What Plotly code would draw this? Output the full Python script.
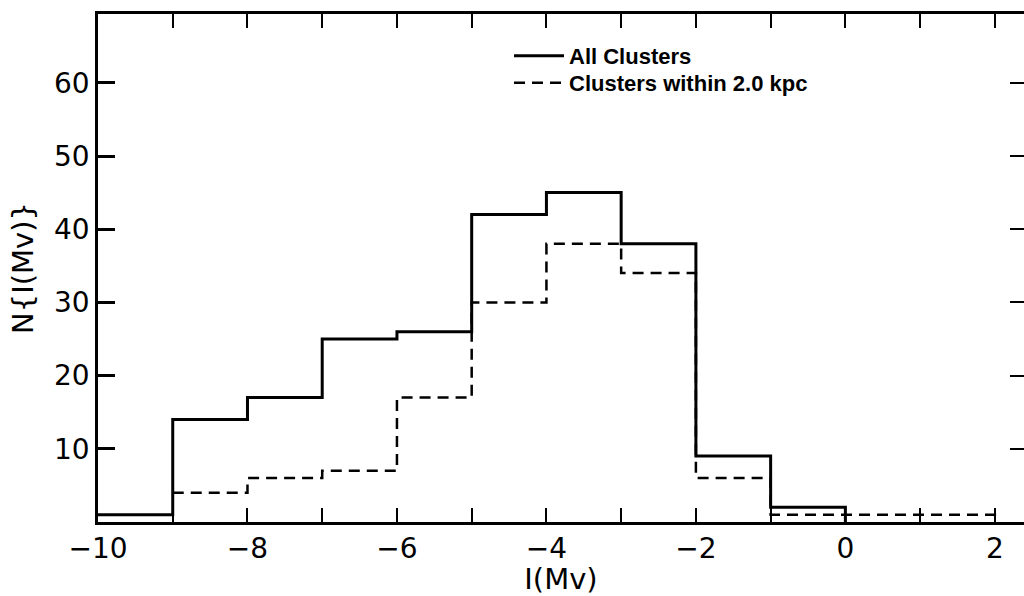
import plotly.graph_objects as go

# ---- data ----
bin_left = [-10, -9, -8, -7, -6, -5, -4, -3, -2, -1, 0, 1]
bin_width = 1
all_clusters = [1, 14, 17, 25, 26, 42, 45, 38, 9, 2, 0, 0]
near_clusters = [0, 4, 6, 7, 17, 30, 38, 34, 6, 1, 1, 1]
series_names = ["All Clusters", "Clusters within 2.0 kpc"]
x_tick_vals = [-10, -8, -6, -4, -2, 0, 2]
y_tick_vals = [10, 20, 30, 40, 50, 60]
x_title = "I(Mv)"
y_title = "N{I(Mv)}"


def step_xy(counts):
    """Step outline of the non-empty bins, closing down to zero at the end."""
    nz = [i for i, c in enumerate(counts) if c != 0]
    i0, i1 = nz[0], nz[-1]
    xs = [bin_left[i] for i in range(i0, i1 + 1)] + [bin_left[i1] + bin_width]
    ys = [counts[i] for i in range(i0, i1 + 1)] + [0]
    return xs, ys


fig = go.Figure()
x1, y1 = step_xy(all_clusters)
fig.add_trace(go.Scatter(
    x=x1, y=y1, mode="lines", line_shape="hv", legend="legend",
    name=series_names[0], line=dict(color="black", width=3),
))
x2, y2 = step_xy(near_clusters)
fig.add_trace(go.Scatter(
    x=x2, y=y2, mode="lines", line_shape="hv", legend="legend2",
    name=series_names[1], line=dict(color="black", width=2.5, dash="11px,7px"),
))
# invisible trace to carry the top / right mirror axes
fig.add_trace(go.Scatter(x=[bin_left[0]], y=[0], xaxis="x2", yaxis="y2",
                         mode="markers", marker=dict(opacity=0),
                         showlegend=False, hoverinfo="skip"))

tick_font = dict(family="DejaVu Sans", size=28, color="black")
title_font = dict(family="DejaVu Sans", size=29, color="black")
legend_font = dict(family="Liberation Sans", size=22, color="black", weight="bold")
xr = [-10, 2.39]
yr = [0, 69.4]
lx = (509 - 98) / 926

fig.update_layout(
    width=1024, height=596,
    margin=dict(l=98, r=0, t=14, b=74),
    paper_bgcolor="white", plot_bgcolor="white",
    showlegend=True,
    legend=dict(x=lx, xanchor="left", y=1 - (56 - 14) / 508, yanchor="middle",
                font=legend_font, bgcolor="rgba(0,0,0,0)", itemwidth=50),
    legend2=dict(x=lx, xanchor="left", y=1 - (83 - 14) / 508, yanchor="middle",
                 font=legend_font, bgcolor="rgba(0,0,0,0)", itemwidth=50),
    xaxis=dict(
        range=xr, tickvals=x_tick_vals, ticks="inside", ticklen=14, tickwidth=2,
        tickcolor="black", showline=True, linecolor="black", linewidth=2.5,
        showgrid=False, zeroline=False, tickfont=tick_font, automargin=False,
        minor=dict(dtick=1, tick0=0, ticks="inside", ticklen=14, tickwidth=2,
                   tickcolor="black", showgrid=False),
        title=dict(text=x_title, font=title_font, standoff=18),
    ),
    yaxis=dict(
        range=yr, tickvals=y_tick_vals, ticks="inside", ticklen=17, tickwidth=2.5,
        tickcolor="black", showline=True, linecolor="black", linewidth=2.5,
        showgrid=False, zeroline=False, tickfont=tick_font, automargin=False,
        title=dict(text=y_title, font=title_font, standoff=12),
    ),
    xaxis2=dict(
        overlaying="x", side="top", range=xr, dtick=1, tick0=0,
        ticks="inside", ticklen=14, tickwidth=2, tickcolor="black",
        showticklabels=False, showline=True, linecolor="black", linewidth=2.5,
        showgrid=False, zeroline=False, automargin=False,
    ),
    yaxis2=dict(
        overlaying="y", side="right", range=yr, tickvals=y_tick_vals,
        ticks="inside", ticklen=14, tickwidth=2, tickcolor="black",
        showticklabels=False, showline=False, showgrid=False, zeroline=False,
        automargin=False,
    ),
)

fig.write_html("out.html")
